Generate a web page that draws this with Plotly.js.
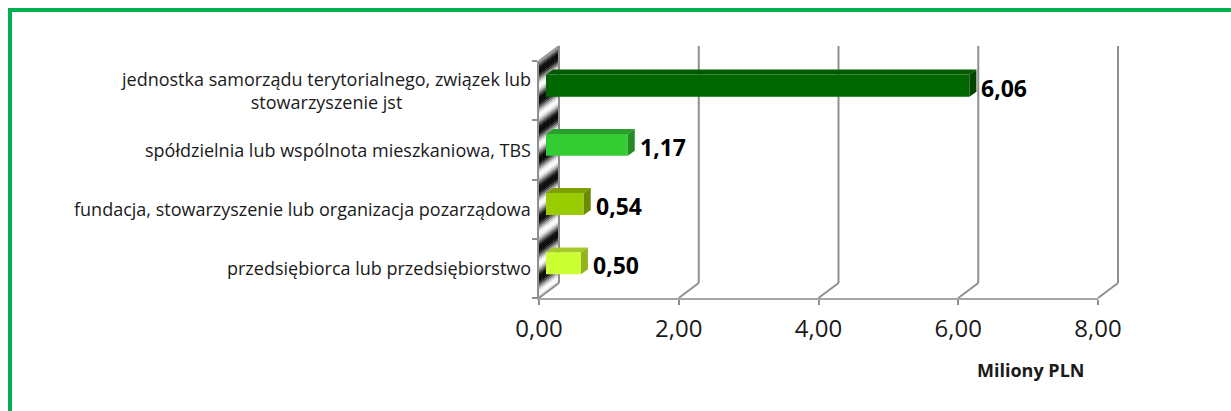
<!DOCTYPE html>
<html><head><meta charset="utf-8">
<script src="https://cdn.plot.ly/plotly-3.0.1.min.js"></script>
<style>
html,body{margin:0;padding:0;background:#fff;overflow:hidden;}
#chart{width:1231px;height:411px;position:absolute;left:0;top:0;}
#frame{position:absolute;left:8px;top:8px;width:1300px;height:500px;border-left:4px solid #00b050;border-top:4px solid #00b050;pointer-events:none;}
</style>
</head><body>
<div id="chart"></div><div id="frame"></div>
<script>
// ---- data ----
const categories = [
  "jednostka samorządu terytorialnego, związek lub<br>stowarzyszenie jst",
  "spółdzielnia lub wspólnota mieszkaniowa, TBS",
  "fundacja, stowarzyszenie lub organizacja pozarządowa",
  "przedsiębiorca lub przedsiębiorstwo"
];
const values = [6.06, 1.17, 0.54, 0.50];
const tickValues = [0, 2, 4, 6, 8];
const tickLabels = ["0,00", "2,00", "4,00", "6,00", "8,00"];
const axisTitle = "Miliony PLN";

// ---- style ----
const frontColors = ["#006600", "#33cc33", "#99cc00", "#ccff33"];
const topColors   = ["#005a00", "#2a9e2a", "#7fa000", "#a6c92a"];
const sideColors  = ["#004400", "#248a24", "#6a8a00", "#93b31f"];

const W = 1231, H = 411;
const FX0 = 539, FX1 = 1098, FY0 = 61, FY1 = 298;   // front plane
const DX = 20, DY = 15;                               // wall depth
const BX = 7, BY = 5;                                 // bar front offset
const BDX = 7, BDY = 5;                               // bar depth
const fx = p => p / W, fy = p => 1 - p / H;
const nCat = categories.length;
const xMax = tickValues[tickValues.length - 1];
const pxPerX = (FX1 - FX0) / xMax;
const pxPerCat = (FY1 - FY0) / nCat;
const barW = 22 / pxPerCat;
const idx = categories.map((c, i) => i);
const fmt = v => v.toFixed(2).replace('.', ',');
const FONT = '"Open Sans", "Noto Sans", sans-serif';

const traces = [
  {type: 'scatter', x: [], y: [], xaxis: 'x', yaxis: 'y', showlegend: false, hoverinfo: 'skip'},
  {type: 'bar', orientation: 'h', x: values, y: idx, xaxis: 'x2', yaxis: 'y2',
   width: barW, marker: {color: frontColors, line: {width: 0}}, hoverinfo: 'skip', showlegend: false}
];

const shapes = [];
// left wall stripes
const wallH = FY1 - FY0, step = 2, period = pxPerCat / 2;
for (let t = 0; t < wallH; t += step) {
  const t1 = Math.min(t + step + 0.5, wallH);
  const g = Math.round(125 + 130 * Math.cos(2 * Math.PI * (t + 6) / period));
  const gg = Math.max(10, Math.min(250, g));
  const c = `rgb(${gg},${gg},${gg})`;
  shapes.push({type: 'path', xref: 'paper', yref: 'paper', layer: 'below', line: {width: 0}, fillcolor: c,
    path: `M ${fx(FX0)},${fy(FY0 + t)} L ${fx(FX0 + DX)},${fy(FY0 + t - DY)} L ${fx(FX0 + DX)},${fy(FY0 + t1 - DY)} L ${fx(FX0)},${fy(FY0 + t1)} Z`});
}
// wall top edge
shapes.push({type: 'line', xref: 'paper', yref: 'paper', layer: 'below', line: {color: '#9a9a9a', width: 2},
  x0: fx(FX0), y0: fy(FY0), x1: fx(FX0 + DX), y1: fy(FY0 - DY)});
// back wall gridlines + floor slants
tickValues.forEach(v => {
  const px = FX0 + v * pxPerX;
  shapes.push({type: 'line', xref: 'paper', yref: 'paper', layer: 'below', line: {color: '#8f8f8f', width: 2},
    x0: fx(px + DX), x1: fx(px + DX), y0: fy(FY1 - DY), y1: fy(FY0 - DY)});
  shapes.push({type: 'line', xref: 'paper', yref: 'paper', layer: 'below',
    line: {color: '#8f8f8f', width: 2}, x0: fx(px), x1: fx(px + DX), y0: fy(FY1), y1: fy(FY1 - DY)});
});
// 3D faces of bars
const dxu = BDX / pxPerX, dyu = BDY / pxPerCat;
values.forEach((v, i) => {
  const yt = i - barW / 2, yb = i + barW / 2;
  shapes.push({type: 'path', xref: 'x2', yref: 'y2', line: {width: 0}, fillcolor: topColors[i],
    path: `M 0,${yt} L ${v},${yt} L ${v + dxu},${yt - dyu} L ${dxu},${yt - dyu} Z`});
  shapes.push({type: 'path', xref: 'x2', yref: 'y2', line: {width: 0}, fillcolor: sideColors[i],
    path: `M ${v},${yt} L ${v + dxu},${yt - dyu} L ${v + dxu},${yb - dyu} L ${v},${yb} Z`});
});

const annotations = [];
categories.forEach((c, i) => {
  annotations.push({xref: 'paper', yref: 'y', x: fx(533), y: i, xanchor: 'right', yanchor: 'middle',
    align: 'center', showarrow: false, text: c, font: {family: FONT, size: 18, color: '#1a1a1a'}});
});
values.forEach((v, i) => {
  annotations.push({xref: 'x2', yref: 'y2', x: v, y: i, xanchor: 'left', yanchor: 'middle', xshift: 10, yshift: -2,
    showarrow: false, text: '<b>' + fmt(v) + '</b>', font: {family: FONT, size: 23, color: '#000'}});
});
annotations.push({xref: 'paper', yref: 'paper', x: fx(1030), y: fy(370), xanchor: 'center', yanchor: 'middle',
  showarrow: false, text: '<b>' + axisTitle + '</b>', font: {family: FONT, size: 18, color: '#1a1a1a'}});

const layout = {
  width: W, height: H, margin: {l: 0, r: 0, t: 0, b: 0},
  paper_bgcolor: 'rgba(0,0,0,0)', plot_bgcolor: 'rgba(0,0,0,0)',
  showlegend: false, separators: ', ',
  xaxis: {domain: [fx(FX0), fx(FX1)], range: [0, xMax], anchor: 'y', tickvals: tickValues, ticktext: tickLabels,
    showgrid: false, zeroline: false, showline: true, linecolor: '#a6a6a6', linewidth: 2,
    ticks: 'outside', ticklen: 5, tickwidth: 2, tickcolor: '#8f8f8f', ticklabelstandoff: 3,
    tickfont: {family: FONT, size: 24, color: '#1a1a1a'}, fixedrange: true},
  yaxis: {domain: [fy(FY1), fy(FY0)], range: [nCat - 0.5, -0.5], anchor: 'x',
    tickvals: idx.concat([nCat]).map(i => i - 0.5), showticklabels: false,
    showgrid: false, zeroline: false, showline: true, linecolor: '#8f8f8f', linewidth: 2,
    ticks: 'outside', ticklen: 5, tickwidth: 2, tickcolor: '#8f8f8f', fixedrange: true},
  xaxis2: {domain: [fx(FX0 + BX), fx(FX1 + BX)], range: [0, xMax], anchor: 'y2', visible: false, fixedrange: true},
  yaxis2: {domain: [fy(FY1 - BY), fy(FY0 - BY)], range: [nCat - 0.5, -0.5], anchor: 'x2', visible: false, fixedrange: true},
  shapes: shapes, annotations: annotations
};
Plotly.newPlot('chart', traces, layout, {staticPlot: true, displayModeBar: false});
</script>
</body></html>
